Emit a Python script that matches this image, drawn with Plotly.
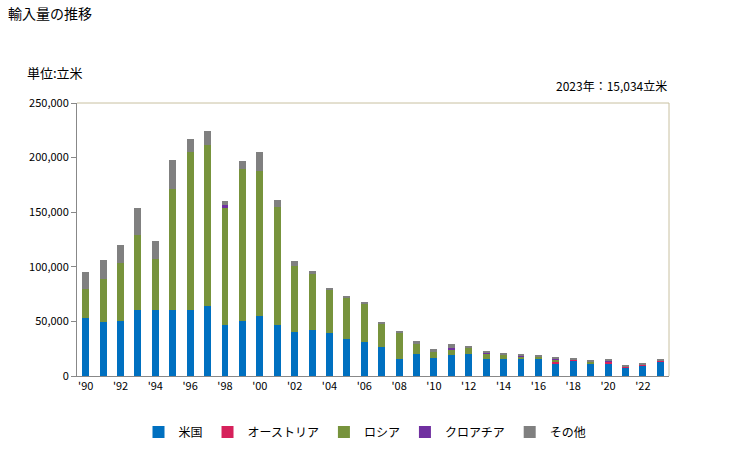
import plotly.graph_objects as go

years = list(range(1990, 2024))
tick_years = list(range(1990, 2023, 2))
tick_labels = ["'" + str(y)[2:] for y in tick_years]

us = [53200, 49800, 50000, 60500, 60500, 60500, 60500, 64200, 46800, 50400,
      55000, 46800, 40300, 42000, 39700, 33900, 31200, 26600, 15600, 20200,
      16500, 19300, 20200, 15600, 15600, 15600, 15600, 11900, 13800, 11000,
      11900, 7600, 9500, 13234]
austria = [0, 0, 0, 0, 0, 0, 0, 0, 0, 0,
           0, 0, 0, 0, 0, 0, 0, 0, 0, 0,
           0, 0, 0, 0, 0, 0, 0, 1000, 1200, 0,
           1500, 800, 900, 900]
russia = [26600, 39100, 53600, 68200, 46200, 111000, 144300, 147000, 107900, 139100,
          133000, 108200, 60700, 51000, 39200, 38300, 35100, 21100, 23800, 9100,
          5800, 5200, 5500, 5200, 4300, 2700, 1800, 1800, 300, 2700,
          0, 0, 0, 0]
croatia = [0, 0, 0, 0, 0, 0, 0, 0, 1500, 0,
           0, 0, 0, 0, 0, 0, 0, 0, 0, 800,
           0, 1000, 800, 1000, 0, 700, 800, 900, 0, 0,
           500, 0, 0, 0]
other = [15600, 17500, 16400, 25300, 17100, 26500, 12500, 13500, 4300, 7700,
         17400, 6400, 4400, 3000, 1800, 1500, 600, 1800, 1900, 1700,
         2500, 3800, 1000, 1100, 600, 1500, 1400, 900, 1200, 300,
         800, 1100, 900, 900]

series = [
    ("米国", us, "#0070C0"),
    ("オーストリア", austria, "#D6215B"),
    ("ロシア", russia, "#77933C"),
    ("クロアチア", croatia, "#7030A0"),
    ("その他", other, "#808080"),
]

FONT = "Noto Sans CJK JP, Arial, sans-serif"

fig = go.Figure()
for name, vals, color in series:
    fig.add_trace(go.Bar(x=years, y=vals, name=name, marker_color=color,
                         marker_line_width=0, width=0.4))

L, R, T, B = 77, 60, 103, 74
W, H = 729, 450
pw, ph = W - L - R, H - T - B

def px(X):
    return (X - L) / pw

def py(Y):
    return (H - B - Y) / ph

fig.update_layout(
    width=W, height=H,
    barmode="stack",
    margin=dict(l=L, r=R, t=T, b=B, autoexpand=False),
    paper_bgcolor="white", plot_bgcolor="white",
    font=dict(family=FONT, size=11, color="#000000"),
    showlegend=True,
    legend=dict(orientation="h", x=px(365), xanchor="center",
                y=py(432), yanchor="middle", font=dict(size=12),
                itemwidth=30, traceorder="normal", tracegroupgap=0),
    shapes=[
        dict(type="line", xref="paper", yref="paper", x0=0, x1=1, y0=1, y1=1,
             line=dict(color="#C8C0A0", width=1)),
        dict(type="line", xref="paper", yref="paper", x0=1, x1=1, y0=0, y1=1,
             line=dict(color="#C8C0A0", width=1)),
    ],
    annotations=[
        dict(text="輸入量の推移", xref="paper", yref="paper", x=px(6), y=py(13),
             xanchor="left", yanchor="middle", showarrow=False, font=dict(size=14)),
        dict(text="単位:立米", xref="paper", yref="paper", x=px(25), y=py(73),
             xanchor="left", yanchor="middle", showarrow=False, font=dict(size=13)),
        dict(text="2023年：15,034立米", xref="paper", yref="paper", x=1, y=py(85),
             xanchor="right", yanchor="middle", showarrow=False, font=dict(size=12)),
    ],
)
fig.update_xaxes(range=[1989.5, 2023.5], tickmode="array", tickvals=tick_years,
                 ticktext=tick_labels, showline=True, linecolor="#888888", linewidth=1,
                 showgrid=False, zeroline=False, ticks="", tickangle=0,
                 tickfont=dict(size=11))
fig.update_yaxes(range=[0, 250000], tickmode="linear", dtick=50000, tick0=0,
                 tickformat=",d", showline=True, linecolor="#888888", linewidth=1,
                 showgrid=False, zeroline=False, ticks="outside", ticklen=5,
                 tickcolor="#888888", tickfont=dict(size=11))

fig.write_html("out.html")
